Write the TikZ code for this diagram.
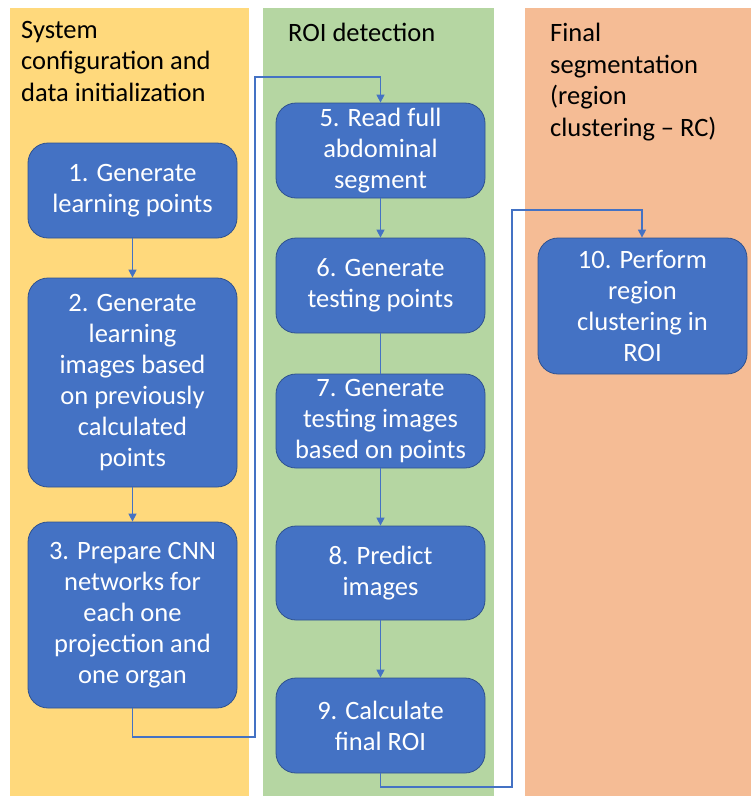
\documentclass[tikz,border=0pt]{standalone}
\usepackage{fontspec}
\setmainfont{Carlito}
\usetikzlibrary{arrows.meta}
\definecolor{laneY}{HTML}{FFD97C}
\definecolor{laneG}{HTML}{B5D6A2}
\definecolor{laneO}{HTML}{F5BC95}
\definecolor{boxfill}{HTML}{4472C4}
\definecolor{boxline}{HTML}{2F528F}
\definecolor{flow}{HTML}{4472C4}
\tikzset{
  stepbox/.style={draw=boxline, line width=0.8pt, fill=boxfill, rounded corners=20pt,
    text=white, align=center, inner sep=0pt,
    font=\fontsize{26.5}{31}\selectfont},
  heading/.style={anchor=north west, align=left, inner sep=0pt,
    font=\fontsize{26.5}{31.5}\selectfont},
  flowline/.style={draw=flow, line width=1.4pt},
  flowarrow/.style={flowline, -{Triangle[length=8pt,width=8pt]}}
}
\newcommand{\mybox}[6]{% name, x1, y1, x2, y2, text
  \node[stepbox, minimum width={#4-#2}, minimum height={#5-#3}] (#1) at ({(#2+#4)/2},{(#3+#5)/2}) {#6};}
\begin{document}
\begin{tikzpicture}[x=1pt,y=-1pt]
\useasboundingbox (0,0) rectangle (751,796);
\fill[white] (0,0) rectangle (751,796);
\fill[laneY] (10,8) rectangle (249,796);
\fill[laneG] (263,8) rectangle (494,796);
\fill[laneO] (525,8) rectangle (751,796);
\node[heading] (hY) at (21,21) {System\\configuration and\\data initialization};
\node[heading] (hG) at (288,23) {ROI detection};
\node[heading] (hO) at (550,23) {Final\\segmentation\\(region\\clustering – RC)};
\mybox{b1}{28}{143}{237}{238}{1. Generate\\learning points}
\mybox{b2}{28}{278}{237}{487}{2. Generate\\learning\\images based\\on previously\\calculated\\points}
\mybox{b3}{28}{522}{237}{708}{3. Prepare CNN\\networks for\\each one\\projection and\\one organ}
\mybox{b5}{276}{103}{485}{198}{5. Read full\\abdominal\\segment}
\mybox{b6}{276}{238}{485}{333}{6. Generate\\testing points}
\mybox{b7}{276}{374}{485}{468}{7. Generate\\testing images\\based on points}
\mybox{b8}{276}{526}{485}{620}{8. Predict\\images}
\mybox{b9}{276}{678}{485}{773}{9. Calculate\\final ROI}
\mybox{b10}{538}{238}{747}{374}{10. Perform\\region\\clustering in\\ROI}
\coordinate (c1) at (b3.south |- 0,737);
\coordinate (c2) at (255,737);
\coordinate (c3) at (255,77);
\coordinate (c4) at (b5.north |- 0,77);
\coordinate (d1) at (b9.south |- 0,787);
\coordinate (d2) at (512,787);
\coordinate (d3) at (512,210);
\coordinate (d4) at (642,210);
\draw[flowarrow] (b1) -- (b2);
\draw[flowarrow] (b2) -- (b3);
\draw[flowarrow] (b3.south) -- (c1) -- (c2) -- (c3) -- (c4) -- (b5.north);
\draw[flowarrow] (b5) -- (b6);
\draw[flowline] (b6) -- (b7);
\draw[flowarrow] (b7) -- (b8);
\draw[flowarrow] (b8) -- (b9);
\draw[flowarrow] (b9.south) -- (d1) -- (d2) -- (d3) -- (d4) -- (d4 |- b10.north);
\end{tikzpicture}
\end{document}
